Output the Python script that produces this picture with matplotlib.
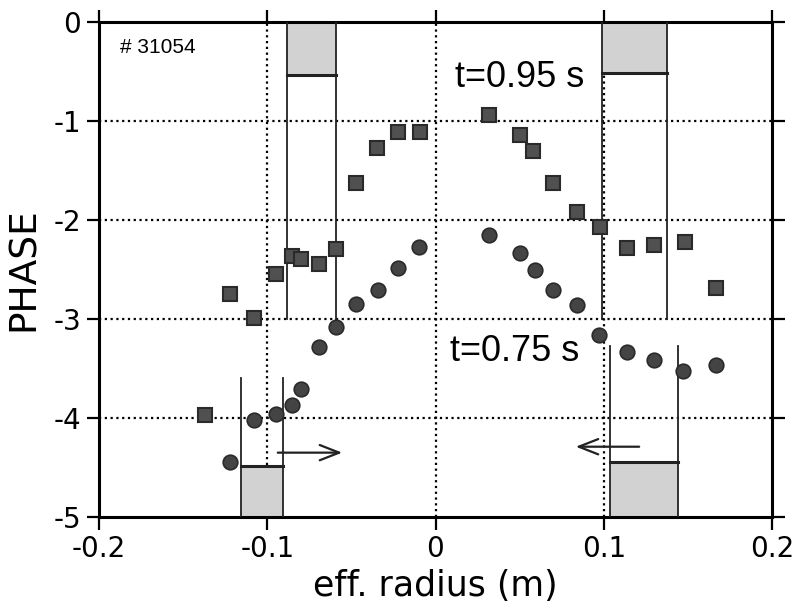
import matplotlib
matplotlib.use("Agg")
import matplotlib.pyplot as plt
from matplotlib.patches import Rectangle

plt.rcParams['axes.unicode_minus'] = False
plt.rcParams['font.family'] = ['DejaVu Sans']

# t = 0.95 s (squares)
sq_x = [-0.137, -0.122, -0.108, -0.095, -0.085, -0.080, -0.069, -0.059, -0.047, -0.035, -0.022, -0.009,
        0.032, 0.050, 0.058, 0.070, 0.084, 0.098, 0.114, 0.130, 0.148, 0.167]
sq_y = [-3.97, -2.75, -2.99, -2.55, -2.36, -2.39, -2.44, -2.29, -1.63, -1.27, -1.11, -1.11,
        -0.94, -1.14, -1.30, -1.63, -1.92, -2.07, -2.28, -2.25, -2.22, -2.69]
# t = 0.75 s (circles)
ci_x = [-0.122, -0.108, -0.095, -0.085, -0.080, -0.069, -0.059, -0.047, -0.034, -0.022, -0.010,
        0.032, 0.050, 0.059, 0.070, 0.084, 0.097, 0.114, 0.130, 0.147, 0.167]
ci_y = [-4.44, -4.02, -3.96, -3.87, -3.71, -3.28, -3.08, -2.85, -2.71, -2.48, -2.27,
        -2.15, -2.33, -2.51, -2.71, -2.86, -3.16, -3.33, -3.41, -3.53, -3.46]

# shaded boxes: x-range, anchored edge, inner edge, end of the vertical guide lines
box_left = [-0.088, 0.099, -0.1158, 0.1037]
box_right = [-0.059, 0.1376, -0.0906, 0.1441]
box_edge = [0.0, 0.0, -5.0, -5.0]
box_inner = [-0.535, -0.515, -4.48, -4.44]
line_end = [-3.0, -3.0, -3.60, -3.27]

# arrows (start x, end x, y)
arr_x0 = [-0.0954, 0.1227]
arr_x1 = [-0.0538, 0.0817]
arr_y = [-4.35, -4.29]

xticks = [-0.2, -0.1, 0, 0.1, 0.2]
xticklabels = ['-0.2', '-0.1', '0', '0.1', '0.2']
yticks = [0, -1, -2, -3, -4, -5]
yticklabels = ['0', '-1', '-2', '-3', '-4', '-5']

fig = plt.figure(figsize=(7.96, 6.11), dpi=100)
ax = fig.add_axes([99/796, 1-517/611, (772-99)/796, (517-22)/611])
ax.set_xlim(-0.2, 0.2)
ax.set_ylim(-5, 0)

# grid
for gy in [-1, -2, -3, -4]:
    ax.axhline(gy, color='black', lw=1.6, ls=(0, (1, 1.6)), zorder=1)
for gx in [-0.1, 0, 0.1]:
    ax.axvline(gx, color='black', lw=1.6, ls=(0, (1, 1.6)), zorder=1)

# boxes and guide lines
for x0, x1, e, inner, le in zip(box_left, box_right, box_edge, box_inner, line_end):
    lo, hi = min(e, inner), max(e, inner)
    ax.add_patch(Rectangle((x0, lo), x1 - x0, hi - lo, facecolor='#d2d2d2',
                           edgecolor='none', zorder=2))
    ax.plot([x0, x1], [inner, inner], color='#222222', lw=2.2, zorder=3)
    ax.plot([x0, x0], [e, le], color='#222222', lw=1.3, zorder=3)
    ax.plot([x1, x1], [e, le], color='#222222', lw=1.3, zorder=3)

# arrows
for a0, a1, ay in zip(arr_x0, arr_x1, arr_y):
    ax.annotate('', xy=(a1, ay), xytext=(a0, ay),
                arrowprops=dict(arrowstyle='->,head_length=1.4,head_width=0.55',
                                color='#222222', lw=1.6), zorder=4)

# data
ax.plot(sq_x, sq_y, 's', ms=10, mfc='#505050', mec='#2a2a2a', mew=1.5, zorder=5)
ax.plot(ci_x, ci_y, 'o', ms=10.5, mfc='#444444', mec='#2a2a2a', mew=1.2, zorder=5)

# texts
ax.text(-0.1875, -0.26, '# 31054', fontsize=15, family='Liberation Sans', va='center', ha='left')
ax.text(0.0116, -0.556, 't=0.95 s', fontsize=26, family='Liberation Sans', va='center', ha='left')
ax.text(0.0086, -3.33, 't=0.75 s', fontsize=26, family='Liberation Sans', va='center', ha='left')

# axes styling
for s in ax.spines.values():
    s.set_linewidth(2.2)
ax.set_xticks(xticks)
ax.set_xticklabels(xticklabels)
ax.set_yticks(yticks)
ax.set_yticklabels(yticklabels)
ax.tick_params(axis='both', direction='out', length=9, width=1.6, labelsize=20,
               top=True, right=True, pad=4)
ax.set_xlabel('eff. radius (m)', fontsize=25, labelpad=4)
ax.set_ylabel('PHASE', fontsize=27, labelpad=8)

fig.savefig('out.png', dpi=100)
